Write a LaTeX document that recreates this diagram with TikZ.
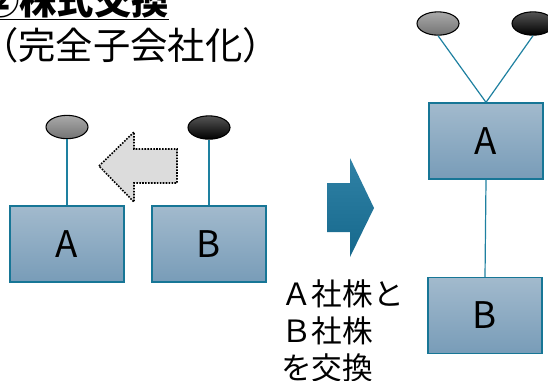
\documentclass[tikz,border=0pt]{standalone}
\usepackage{fontspec}
\setmainfont{Noto Sans CJK JP}
\usetikzlibrary{shapes.geometric}

\definecolor{linkteal}{RGB}{30,128,160}
\definecolor{corpedge}{RGB}{23,118,150}
\definecolor{corptop}{RGB}{162,186,205}
\definecolor{corpbottom}{RGB}{120,156,184}

\tikzset{
  corp/.style={draw=corpedge, line width=1pt, top color=corptop, bottom color=corpbottom,
    minimum width=85.5pt, minimum height=57pt, inner sep=0pt,
    font=\fontsize{27.5}{30}\selectfont},
  stockgray/.style={ellipse, draw=black, line width=0.8pt, top color={rgb,255:red,170;green,170;blue,170},
    bottom color={rgb,255:red,115;green,115;blue,115}, minimum width=31.5pt, minimum height=17.5pt, inner sep=0pt},
  stockblack/.style={ellipse, draw=black, line width=0.8pt, top color={rgb,255:red,85;green,85;blue,85},
    bottom color=black, minimum width=31.5pt, minimum height=17.5pt, inner sep=0pt},
  link/.style={draw=linkteal, line width=0.9pt}
}

\begin{document}
\begin{tikzpicture}[x=0.75pt,y=0.75pt,yscale=-1,xscale=1]
\useasboundingbox (0,0) rectangle (548,380);

% Text Node
\node (title) [anchor=base west, inner sep=0pt, font=\fontsize{28}{30}\selectfont] at (-18,14) {\underline{\textbf{②株式交換}}};
% Text Node
\node (subtitle) [anchor=base west, inner sep=0pt, font=\fontsize{28}{30}\selectfont] at (-19,59) {（完全子会社化）};

%Shapes: before
\node (stockA) [stockgray] at (67,127) {};
\node (stockB) [stockblack] at (209,127.5) {};
\node (corpA) [corp] at (67,244) {A};
\node (corpB) [corp] at (209,244) {B};
\draw [link] (stockA.south) -- (corpA.north);
\draw [link] (stockB.south) -- (corpB.north);

%Dotted arrow
\draw [densely dotted, line width=1.2pt, fill={rgb,255:red,220;green,220;blue,220}]
  (99,166) -- (134,132) -- (134,149) -- (177,149) -- (177,183) -- (134,183) -- (134,202) -- cycle ;

%Blue arrow
\shade [top color={rgb,255:red,48;green,130;blue,166}, middle color={rgb,255:red,8;green,106;blue,146}, bottom color={rgb,255:red,22;green,104;blue,140}]
  (327,183) -- (350,183) -- (350,158) -- (374,208) -- (350,257) -- (350,232) -- (327,232) -- cycle ;

% Text Node
\node (swap) [anchor=base west, inner sep=0pt, align=left, font=\fontsize{23}{27.75}\selectfont] at (281,379) {Ａ社株と\\Ｂ社株\\を交換};

%Shapes: after
\node (stockA2) [stockgray] at (438,23.5) {};
\node (stockB2) [stockblack] at (533,23.5) {};
\node (parent) [corp] at (486,141) {A};
\node (child) [corp] at (485,315.5) {B};
\draw [link] (stockA2.south) -- (parent.north);
\draw [link] (stockB2.south) -- (parent.north);
\draw [link] (parent.south) -- (child.north);

\end{tikzpicture}
\end{document}
